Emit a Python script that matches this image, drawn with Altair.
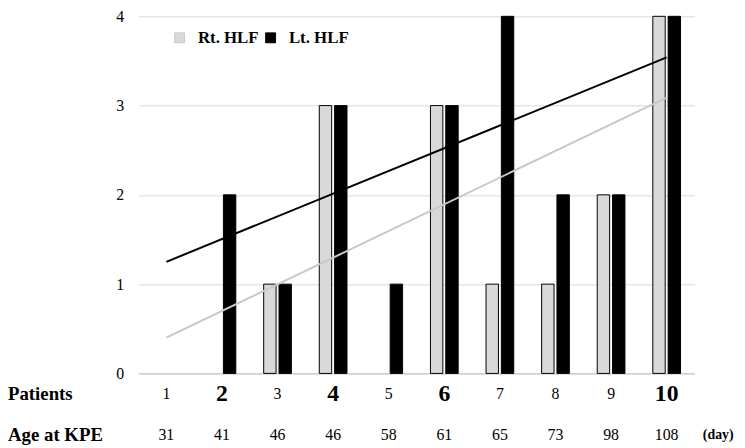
import altair as alt
import pandas as pd

FONT = "Liberation Serif"

patients = [1, 2, 3, 4, 5, 6, 7, 8, 9, 10]
bold_patients = [2, 4, 6, 10]
age_at_kpe = [31, 41, 46, 46, 58, 61, 65, 73, 98, 108]
rt_hlf = [0, 0, 1, 3, 0, 3, 1, 1, 2, 4]
lt_hlf = [0, 2, 1, 3, 1, 3, 4, 2, 2, 4]
series = ["Rt. HLF", "Lt. HLF"]

trend_x = [1, 10]
trend_rt = [0.40, 3.09]
trend_lt = [1.25, 3.54]

bars = pd.DataFrame(
    [{"patient": p, "series": "Rt. HLF", "value": v} for p, v in zip(patients, rt_hlf)]
    + [{"patient": p, "series": "Lt. HLF", "value": v} for p, v in zip(patients, lt_hlf)]
)
trend = pd.DataFrame(
    [{"patient": p, "series": "Rt. HLF", "value": v} for p, v in zip(trend_x, trend_rt)]
    + [{"patient": p, "series": "Lt. HLF", "value": v} for p, v in zip(trend_x, trend_lt)]
)
labels = pd.DataFrame({"patient": patients, "age": age_at_kpe})
labels["bold"] = labels["patient"].isin(bold_patients)
one = pd.DataFrame({"k": [0]})

H = 361
ROW1 = 382
ROW2 = 423

xscale = alt.Scale(domain=patients, paddingInner=0, paddingOuter=0)
x_enc = alt.X(
    "patient:O",
    scale=xscale,
    axis=alt.Axis(labels=False, ticks=False, title=None, grid=False,
                  domainColor="#bfbfbf", domainWidth=1),
)
y_enc = alt.Y(
    "value:Q",
    scale=alt.Scale(domain=[0, 4]),
    axis=alt.Axis(values=[0, 1, 2, 3, 4], grid=True, gridColor="#d9d9d9",
                  domain=False, ticks=False, title=None, labelFont=FONT,
                  labelFontSize=16, labelColor="black", labelPadding=15),
)

bar_layer = (
    alt.Chart(bars)
    .transform_filter("datum.value > 0")
    .mark_bar(stroke="black", strokeWidth=1)
    .encode(
        x=x_enc,
        xOffset=alt.XOffset("series:N", scale=alt.Scale(domain=series, paddingInner=0.19, paddingOuter=0.91)),
        y=y_enc,
        color=alt.Color(
            "series:N",
            scale=alt.Scale(domain=series, range=["#d9d9d9", "black"]),
            legend=alt.Legend(
                title=None, orient="none", legendX=33, legendY=13,
                direction="horizontal", symbolType="square", symbolSize=100,
                symbolStrokeColor="black", symbolStrokeWidth=1,
                labelFont=FONT, labelFontSize=17, labelFontWeight="bold",
                labelColor="black", columnPadding=3, labelOffset=10,
            ),
        ),
    )
)

trend_layer = (
    alt.Chart(trend)
    .mark_line(strokeWidth=2)
    .encode(
        x=x_enc,
        y=y_enc,
        stroke=alt.Stroke("series:N", scale=alt.Scale(domain=series, range=["#c8c8c8", "black"]), legend=None),
    )
)

odd_labels = (
    alt.Chart(labels)
    .transform_filter("!datum.bold")
    .mark_text(font=FONT, fontSize=16, color="black", baseline="middle")
    .encode(x=x_enc, y=alt.value(ROW1), text="patient:N")
)
even_labels = (
    alt.Chart(labels)
    .transform_filter("datum.bold")
    .mark_text(font=FONT, fontSize=24, fontWeight="bold", color="black", baseline="middle")
    .encode(x=x_enc, y=alt.value(ROW1), text="patient:N")
)
age_labels = (
    alt.Chart(labels)
    .mark_text(font=FONT, fontSize=16, color="black", baseline="middle")
    .encode(x=x_enc, y=alt.value(ROW2), text="age:N")
)

patients_title = alt.Chart(one).mark_text(
    font=FONT, fontSize=19, fontWeight="bold", color="black", align="left", baseline="middle"
).encode(x=alt.value(-132), y=alt.value(ROW1), text=alt.value("Patients"))
age_title = alt.Chart(one).mark_text(
    font=FONT, fontSize=19, fontWeight="bold", color="black", align="left", baseline="middle"
).encode(x=alt.value(-132), y=alt.value(ROW2), text=alt.value("Age at KPE"))
day_title = alt.Chart(one).mark_text(
    font=FONT, fontSize=14, fontWeight="bold", color="black", align="center", baseline="middle"
).encode(x=alt.value(586), y=alt.value(ROW2), text=alt.value("(day)"))

chart = (
    alt.layer(bar_layer, trend_layer, odd_labels, even_labels, age_labels,
              patients_title, age_title, day_title)
    .properties(
        width=562, height=H,
        autosize=alt.AutoSizeParams(type="none"),
        padding={"left": 132, "top": 6, "right": 43, "bottom": 72},
        background="white",
    )
    .configure_view(stroke=None)
)

chart.save("out.html", embed_options={"renderer": "svg", "actions": False})
